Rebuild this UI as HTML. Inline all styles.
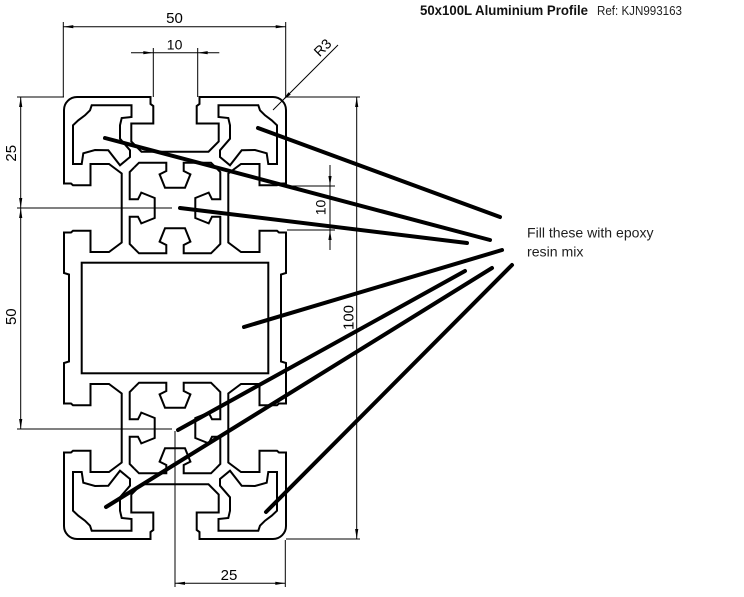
<!DOCTYPE html>
<html>
<head>
<meta charset="utf-8">
<style>
  html,body{margin:0;padding:0;background:#fff;}
  svg{display:block;}
  text{font-family:"Liberation Sans", Arial, sans-serif;}
</style>
</head>
<body>
<svg width="744" height="597" viewBox="0 0 744 597" xmlns="http://www.w3.org/2000/svg">
  <rect x="0" y="0" width="744" height="597" fill="#fff"/>
  <defs>
    <g id="q" fill="none" stroke="#000" stroke-width="2" stroke-linejoin="miter">
      <path d="M175,151.7 L141.5,151.7 L131.3,141.5 L131.3,123.5 L153.3,123.5 L153.3,106 L150.5,104 L150.5,97 L77,97 A13,13 0 0 0 64,110 L64,183.5 L71,183.5 L73,185.3 L90.5,185.3 L90.5,164 L109,164 L121.7,173.5 L121.7,242.5 L109,252 L90.5,252 L90.5,230.7 L73,230.7 L71,232.5 L64,232.5 L64,273 L69,274.5 L69,318"/>
      <path d="M91.7,105.3 L131.5,105.3 L131.5,117 L121.7,118 L120,125.3 L120,138.7 L130,150.3 L130,157 L120,165.3 L108.3,150.3 L95,150 L83.3,153.3 L81.7,164 L73,164 L73,125.3 L78.3,120.3 L85,115.3 L90,110.3 Z"/>
    </g>
    <polyline id="cs" fill="none" stroke="#000" stroke-width="2" points="-40.65,40.65 -36,45.3 -8.7,45.3 -8.7,37 -15.4,33.7 -10,20.3 10,20.3 15.4,33.7 8.7,37 8.7,45.3 36,45.3 40.65,40.65"/>
    <g id="core">
      <use href="#cs"/>
      <use href="#cs" transform="rotate(90)"/>
      <use href="#cs" transform="rotate(180)"/>
      <use href="#cs" transform="rotate(270)"/>
    </g>
  </defs>

  <!-- Profile -->
  <use href="#q"/>
  <use href="#q" transform="matrix(-1,0,0,1,350,0)"/>
  <use href="#q" transform="matrix(1,0,0,-1,0,636)"/>
  <use href="#q" transform="matrix(-1,0,0,-1,350,636)"/>
  <use href="#core" transform="translate(175,208)"/>
  <use href="#core" transform="translate(175,428)"/>
  <rect x="81.7" y="262.7" width="186.6" height="110.6" fill="none" stroke="#000" stroke-width="2"/>

  <!-- Dimension & extension lines -->
  <g stroke="#000" stroke-width="1" fill="none">
    <line x1="63.3" y1="26.7" x2="285.7" y2="26.7"/>
    <line x1="131" y1="52.7" x2="219.3" y2="52.7"/>
    <line x1="273" y1="110" x2="338" y2="45"/>
    <line x1="20.7" y1="97" x2="20.7" y2="429"/>
    <line x1="356.7" y1="97" x2="356.7" y2="539"/>
    <line x1="330" y1="165" x2="330" y2="250"/>
    <line x1="175" y1="583.3" x2="285.3" y2="583.3"/>

    <line x1="63.3" y1="22" x2="63.3" y2="97"/>
    <line x1="285.7" y1="22" x2="285.7" y2="97"/>
    <line x1="153.3" y1="48" x2="153.3" y2="97"/>
    <line x1="197.7" y1="48" x2="197.7" y2="97"/>
    <line x1="17" y1="97" x2="64" y2="97"/>
    <line x1="286" y1="97" x2="360" y2="97"/>
    <line x1="17" y1="208" x2="172" y2="208"/>
    <line x1="17" y1="429" x2="172" y2="429"/>
    <line x1="175" y1="431" x2="175" y2="587"/>
    <line x1="285.3" y1="540" x2="285.3" y2="587"/>
    <line x1="286" y1="539" x2="360" y2="539"/>
    <line x1="287" y1="186" x2="335" y2="186"/>
    <line x1="287" y1="230" x2="335" y2="230"/>
  </g>

  <!-- Arrowheads -->
  <g fill="#000" stroke="none">
    <polygon points="63.3,26.7 73.3,25.1 73.3,28.3"/>
    <polygon points="285.7,26.7 275.7,25.1 275.7,28.3"/>
    <polygon points="153.3,52.7 143.3,51.1 143.3,54.3"/>
    <polygon points="197.7,52.7 207.7,51.1 207.7,54.3"/>
    <polygon points="20.7,97 19.1,107 22.3,107"/>
    <polygon points="20.7,208 19.1,198 22.3,198"/>
    <polygon points="20.7,208 19.1,218 22.3,218"/>
    <polygon points="20.7,429 19.1,419 22.3,419"/>
    <polygon points="356.7,97 355.1,107 358.3,107"/>
    <polygon points="356.7,539 355.1,529 358.3,529"/>
    <polygon points="330,186 328.4,176 331.6,176"/>
    <polygon points="330,230 328.4,240 331.6,240"/>
    <polygon points="175,583.3 185,581.7 185,584.9"/>
    <polygon points="285.3,583.3 275.3,581.7 275.3,584.9"/>
    <polygon points="282.5,100.5 290.7,94.5 288.5,92.3"/>
  </g>

  <!-- Dimension texts -->
  <g fill="#000" font-size="15">
    <text x="174.5" y="23" text-anchor="middle">50</text>
    <text x="174.6" y="49.5" text-anchor="middle" font-size="14">10</text>
    <text transform="translate(326,51) rotate(-45)" text-anchor="middle" font-size="14">R3</text>
    <text transform="translate(16,153.3) rotate(-90)" text-anchor="middle">25</text>
    <text transform="translate(16,316.7) rotate(-90)" text-anchor="middle">50</text>
    <text transform="translate(353.5,317.5) rotate(-90)" text-anchor="middle">100</text>
    <text transform="translate(325.5,207.5) rotate(-90)" text-anchor="middle" font-size="14">10</text>
    <text x="229" y="580" text-anchor="middle">25</text>
  </g>

  <!-- Leader lines -->
  <g stroke="#000" stroke-width="4" stroke-linecap="round">
    <line x1="258" y1="128" x2="500" y2="217"/>
    <line x1="105" y1="138" x2="490" y2="240"/>
    <line x1="180" y1="208" x2="467" y2="243"/>
    <line x1="244" y1="327" x2="502" y2="250"/>
    <line x1="178" y1="430" x2="465" y2="271"/>
    <line x1="106" y1="507" x2="492" y2="268"/>
    <line x1="266" y1="512" x2="512" y2="265"/>
  </g>

  <!-- Title -->
  <text x="420" y="15" font-size="14" font-weight="bold" fill="#111" textLength="168" lengthAdjust="spacingAndGlyphs">50x100L Aluminium Profile</text>
  <text x="597" y="15" font-size="13" fill="#222" textLength="85" lengthAdjust="spacingAndGlyphs">Ref: KJN993163</text>

  <!-- Annotation -->
  <text x="527" y="237.5" font-size="14" fill="#1e1e1e" textLength="126.5" lengthAdjust="spacingAndGlyphs">Fill these with epoxy</text>
  <text x="527" y="256.3" font-size="14" fill="#1e1e1e" textLength="56.5" lengthAdjust="spacingAndGlyphs">resin mix</text>
</svg>
</body>
</html>
